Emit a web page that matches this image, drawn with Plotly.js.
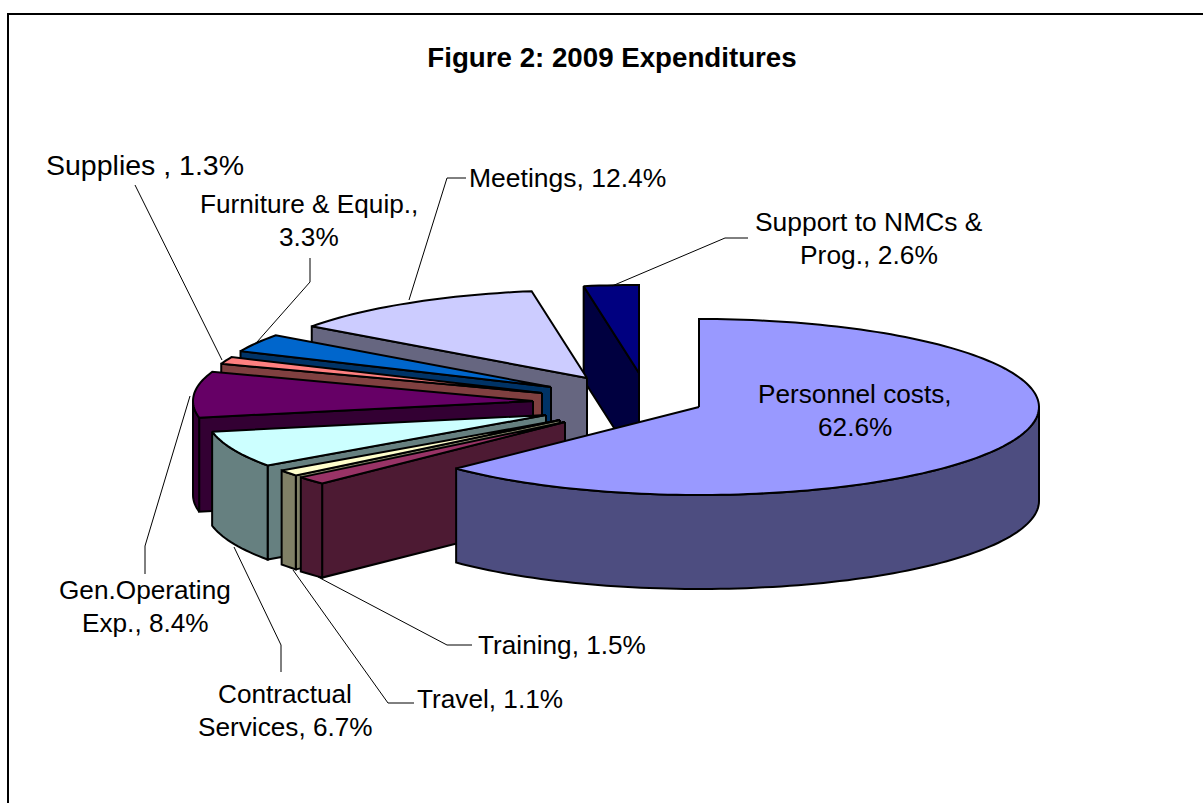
<!DOCTYPE html>
<html>
<head>
<meta charset="utf-8">
<script src="https://cdn.plot.ly/plotly-3.0.1.min.js"></script>
<style>html,body{margin:0;padding:0;background:#fff;overflow:hidden}#chart{width:1203px;height:803px}</style>
</head>
<body>
<div id="chart"></div>
<script>
// --- data ---
const categories = ["Personnel costs","Training","Travel","Contractual Services","Gen.Operating Exp.","Supplies ","Furniture & Equip.","Meetings","Support to NMCs & Prog."];
const shares = [62.6,1.5,1.1,6.7,8.4,1.3,3.3,12.4,2.6];
const topColors = ["#9999FF","#993366","#FFFFCC","#CCFFFF","#660066","#FF8080","#0066CC","#CCCCFF","#000080"];
const wallColors = ["#4D4D80","#4D1A33","#808066","#668080","#330033","#804040","#003366","#666680","#000040"];
// --- pie projection and per-slice explosion ---
const pieCenter = [620,400], radiusX = 340, radiusY = 88, pieDepth = 94;
const explodeX = [79,-55,-60,-74,-87,-78,-69,-33,19];
const explodeY = [7,22,20,15,1,-7,-13,-22,-27];
// --- label layout ---
const labelWrap = [["Personnel costs,","@"],["Training, @"],["Travel, @"],["Contractual","Services, @"],["Gen.Operating","Exp., @"],["Supplies , @"],["Furniture & Equip.,","@"],["Meetings, @"],["Support to NMCs &","Prog., @"]];
const labelX = [855,562,490,285,145,145,308.5,567,868.5];
const labelY = [410,645,699,710,606,165,220,178,238];
const labelSize = [26.2,26.2,26.2,26.2,26.2,28.5,26.2,26.5,26.4];
const lineStep = 33;
const leaderX = [[],[472,447,318],[414,388,293],[281,281,234],[145,145,190],[135,222],[310,310,257],[466,447,409],[748,725,612]];
const leaderY = [[],[645,645,577],[703,703,570],[672,645,547],[574,546,396],[185,360],[258,282,342],[178,178,300],[238,238,286]];

const rad = d => d*Math.PI/180;
function pt(i,a,drop){
  return [pieCenter[0]+explodeX[i]+radiusX*Math.sin(rad(a)),
          pieCenter[1]+explodeY[i]-radiusY*Math.cos(rad(a))+(drop||0)];
}
function apex(i,drop){return [pieCenter[0]+explodeX[i],pieCenter[1]+explodeY[i]+(drop||0)];}
function arc(i,a0,a1,drop){
  const out=[],n=Math.max(2,Math.ceil(Math.abs(a1-a0)/1.5));
  for(let k=0;k<=n;k++) out.push(pt(i,a0+(a1-a0)*k/n,drop));
  return out;
}
function face(points,color){
  const closed=points.concat([points[0]]);
  return {type:"scatter",mode:"lines",x:closed.map(p=>p[0]),y:closed.map(p=>p[1]),
    fill:"toself",fillcolor:color,line:{color:"#000",width:2,simplify:false},hoverinfo:"skip",showlegend:false};
}
const total = shares.reduce((s,v)=>s+v,0);
const starts=[];let run=0;
shares.forEach(v=>{starts.push(run/total*360);run+=v;});
const traces=[];
// paint back to front
[8,7,6,5,4,3,2,1,0].forEach(i=>{
  const a0=starts[i],a1=a0+shares[i]/total*360;
  if(Math.sin(rad(a0))<-1e-6){
    traces.push(face([apex(i),pt(i,a0),pt(i,a0,pieDepth),apex(i,pieDepth)],wallColors[i]));
  }
  const w0=Math.max(a0,90),w1=Math.min(a1,270);
  if(w1>w0){
    traces.push(face(arc(i,w0,w1,0).concat(arc(i,w1,w0,pieDepth)),wallColors[i]));
  }
  traces.push(face([apex(i)].concat(arc(i,a0,a1,0)),topColors[i]));
});
categories.forEach((c,i)=>{
  if(!leaderX[i].length) return;
  traces.push({type:"scatter",mode:"lines",x:leaderX[i],y:leaderY[i],line:{color:"#000",width:1},hoverinfo:"skip",showlegend:false});
});
const annotations=[];
categories.forEach((c,i)=>{
  const lines=labelWrap[i],n=lines.length;
  lines.forEach((ln,j)=>annotations.push({
    x:labelX[i],y:labelY[i]+(j-(n-1)/2)*lineStep,xref:"x",yref:"y",showarrow:false,xanchor:"center",yanchor:"middle",align:"center",
    text:ln.replace("@",shares[i].toFixed(1)+"%"),
    font:{family:"Liberation Sans, Arial, sans-serif",size:labelSize[i],color:"#000"}
  }));
});
const layout={
  width:1203,height:803,margin:{l:0,r:0,t:0,b:0},paper_bgcolor:"#fff",plot_bgcolor:"#fff",showlegend:false,
  title:{text:"<b>Figure 2: 2009 Expenditures</b>",x:612/1203,xanchor:"center",y:1-57/803,yanchor:"middle",
    font:{family:"Liberation Sans, Arial, sans-serif",size:27.7,color:"#000"}},
  xaxis:{range:[0,1203],visible:false,fixedrange:true},
  yaxis:{range:[803,0],visible:false,fixedrange:true},
  annotations,
  shapes:[{type:"rect",xref:"x",yref:"y",x0:8,y0:14,x1:1210,y1:820,line:{color:"#000",width:2},fillcolor:"rgba(0,0,0,0)",layer:"below"}]
};
Plotly.newPlot("chart",traces,layout,{displayModeBar:false,staticPlot:true});
</script>
</body>
</html>
